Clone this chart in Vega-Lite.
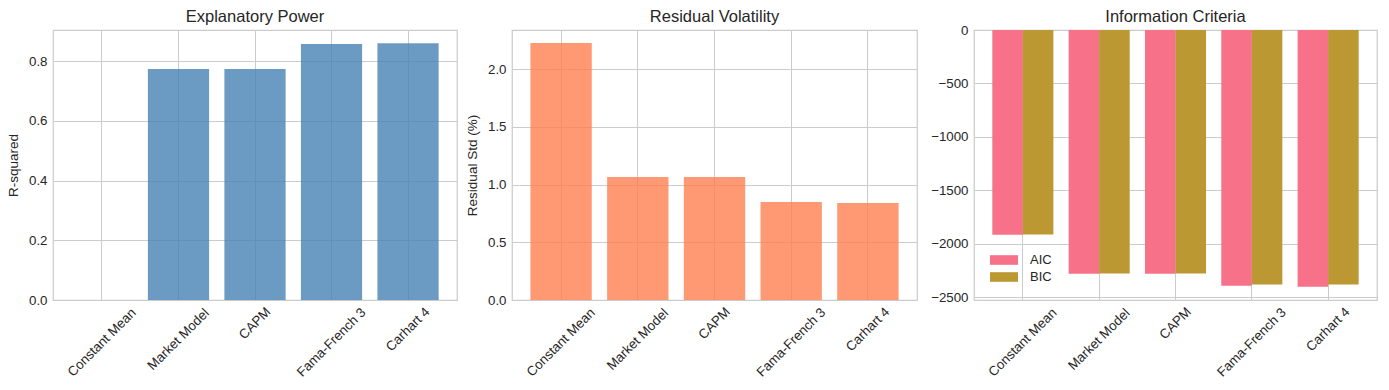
{
  "$schema": "https://vega.github.io/schema/vega-lite/v6.json",
  "background": "white",
  "padding": {"left": 5, "top": 7, "right": 5, "bottom": 5},
  "spacing": 6,
  "config": {
    "font": "Liberation Sans",
    "view": {"stroke": "#cccccc", "strokeWidth": 1.25},
    "title": {"fontSize": 16.5, "fontWeight": "normal", "color": "#262626", "offset": 5},
    "axis": {
      "labelFontSize": 13.3, "labelColor": "#262626", "titleFontSize": 13.5, "titleFontWeight": "normal", "titleColor": "#262626",
      "gridColor": "#cccccc", "gridWidth": 1, "ticks": false, "tickSize": 0, "domain": false
    }
  },
  "datasets": {
    "models": [
      {"model": "Constant Mean", "r2": 0.0, "resid": 2.229},
      {"model": "Market Model", "r2": 0.774, "resid": 1.067},
      {"model": "CAPM", "r2": 0.774, "resid": 1.067},
      {"model": "Fama-French 3", "r2": 0.858, "resid": 0.850},
      {"model": "Carhart 4", "r2": 0.861, "resid": 0.841}
    ],
    "ic": [
      {"model": "Constant Mean", "criterion": "AIC", "value": -1915},
      {"model": "Constant Mean", "criterion": "BIC", "value": -1912},
      {"model": "Market Model", "criterion": "AIC", "value": -2279},
      {"model": "Market Model", "criterion": "BIC", "value": -2277},
      {"model": "CAPM", "criterion": "AIC", "value": -2279},
      {"model": "CAPM", "criterion": "BIC", "value": -2277},
      {"model": "Fama-French 3", "criterion": "AIC", "value": -2391},
      {"model": "Fama-French 3", "criterion": "BIC", "value": -2381},
      {"model": "Carhart 4", "criterion": "AIC", "value": -2401},
      {"model": "Carhart 4", "criterion": "BIC", "value": -2381}
    ]
  },
  "hconcat": [
    {
      "title": "Explanatory Power",
      "width": 404, "height": 270,
      "data": {"name": "models"},
      "mark": {"type": "bar", "color": "steelblue", "opacity": 0.8},
      "encoding": {
        "x": {"field": "model", "type": "nominal", "sort": null,
          "scale": {"paddingInner": 0.2, "paddingOuter": 0.24},
          "axis": {"title": null, "labelAngle": -45, "labelAlign": "center", "labelBaseline": "middle", "grid": true, "bandPosition": 0.5,
            "labelPadding": {"condition": [
              {"test": "datum.value == 'Constant Mean'", "value": 42},
              {"test": "datum.value == 'Market Model'", "value": 39},
              {"test": "datum.value == 'CAPM'", "value": 23},
              {"test": "datum.value == 'Fama-French 3'", "value": 42}
            ], "value": 29}}},
        "y": {"field": "r2", "type": "quantitative",
          "scale": {"domain": [0, 0.905], "nice": false},
          "axis": {"title": "R-squared", "values": [0, 0.2, 0.4, 0.6, 0.8], "format": ".1f", "labelPadding": 6, "titlePadding": 8}}
      }
    },
    {
      "title": "Residual Volatility",
      "width": 405, "height": 270,
      "data": {"name": "models"},
      "mark": {"type": "bar", "color": "coral", "opacity": 0.8},
      "encoding": {
        "x": {"field": "model", "type": "nominal", "sort": null,
          "scale": {"paddingInner": 0.2, "paddingOuter": 0.24},
          "axis": {"title": null, "labelAngle": -45, "labelAlign": "center", "labelBaseline": "middle", "grid": true, "bandPosition": 0.5,
            "labelPadding": {"condition": [
              {"test": "datum.value == 'Constant Mean'", "value": 42},
              {"test": "datum.value == 'Market Model'", "value": 39},
              {"test": "datum.value == 'CAPM'", "value": 23},
              {"test": "datum.value == 'Fama-French 3'", "value": 42}
            ], "value": 29}}},
        "y": {"field": "resid", "type": "quantitative",
          "scale": {"domain": [0, 2.341], "nice": false},
          "axis": {"title": "Residual Std (%)", "values": [0, 0.5, 1, 1.5, 2], "format": ".1f", "labelPadding": 6, "titlePadding": 8}}
      }
    },
    {
      "title": {"text": "Information Criteria", "offset": -2},
      "width": 403, "height": 270,
      "data": {"name": "ic"},
      "mark": {"type": "bar"},
      "encoding": {
        "x": {"field": "model", "type": "nominal", "sort": ["Constant Mean", "Market Model", "CAPM", "Fama-French 3", "Carhart 4"],
          "scale": {"paddingInner": 0.2, "paddingOuter": 0.24},
          "axis": {"title": null, "labelAngle": -45, "labelAlign": "center", "labelBaseline": "middle", "grid": true, "bandPosition": 0.5,
            "labelPadding": {"condition": [
              {"test": "datum.value == 'Constant Mean'", "value": 42},
              {"test": "datum.value == 'Market Model'", "value": 39},
              {"test": "datum.value == 'CAPM'", "value": 23},
              {"test": "datum.value == 'Fama-French 3'", "value": 42}
            ], "value": 29}}},
        "xOffset": {"field": "criterion", "type": "nominal", "scale": {"paddingInner": 0, "paddingOuter": 0}},
        "y": {"field": "value", "type": "quantitative",
          "scale": {"domain": [-2525, 0], "nice": false},
          "axis": {"title": null, "values": [0, -500, -1000, -1500, -2000, -2500], "format": "d", "labelPadding": 6, "minExtent": 49}},
        "color": {"field": "criterion", "type": "nominal",
          "scale": {"domain": ["AIC", "BIC"], "range": ["#f77189", "#bb9832"]},
          "legend": {"title": null, "orient": "none", "legendX": 941, "legendY": 220, "padding": 0,
            "symbolType": "M-1.4,-0.48H1.4V0.48H-1.4Z", "symbolSize": 400, "symbolStrokeWidth": 0, "symbolOpacity": 1,
            "labelFontSize": 13, "labelColor": "#262626", "labelOffset": 16, "rowPadding": 0}}
      }
    }
  ]
}
